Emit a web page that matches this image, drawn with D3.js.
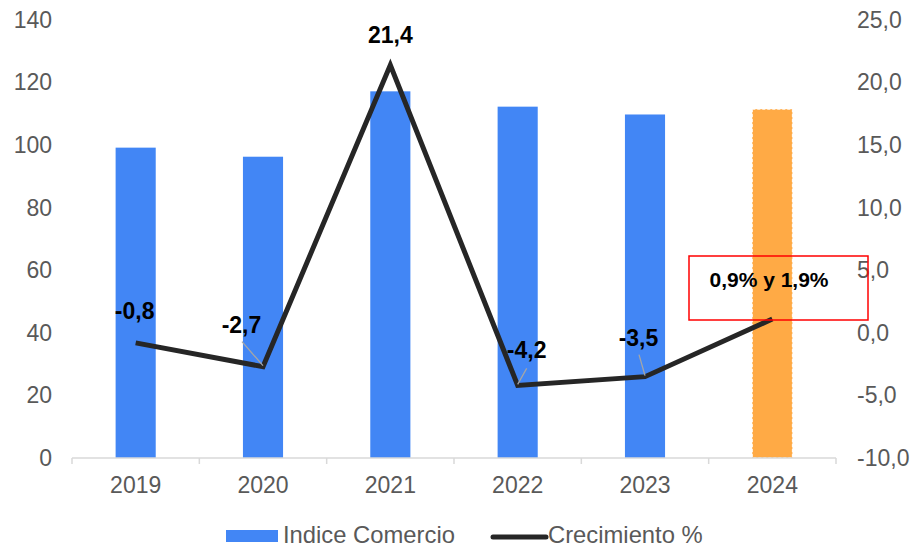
<!DOCTYPE html>
<html><head><meta charset="utf-8">
<script src="https://cdn.jsdelivr.net/npm/d3@7"></script>
<style>body{margin:0;background:#fff}svg{display:block}text{font-family:"Liberation Sans",Arial,sans-serif}</style>
</head><body><svg id="c" width="912" height="547"></svg>
<script>
const years = ["2019","2020","2021","2022","2023","2024"];
const indice = [99.2, 96.3, 117.2, 112.3, 109.8, 111.5];
const crecimiento = [-0.8, -2.7, 21.4, -4.2, -3.5, 1.1];
const growthLabels = ["-0,8","-2,7","21,4","-4,2","-3,5",""];
const leftTicks = [0,20,40,60,80,100,120,140];
const rightTicks = [-10,-5,0,5,10,15,20,25];
const boxLabel = "0,9% y 1,9%";

const svg = d3.select("#c");
const FF = '"Liberation Sans",Arial,sans-serif';
const L = 72, R = 836, T = 20, B = 458;
const x = d3.scaleBand().domain(years).range([L, R]).paddingInner(0.685).paddingOuter(0.3425);
const xc = d3.scaleBand().domain(years).range([L, R]);
const yL = d3.scaleLinear().domain([0,140]).range([B,T]);
const yR = d3.scaleLinear().domain([-10,25]).range([B,T]);

// bars
svg.selectAll("rect.bar").data(years).join("rect")
  .attr("x", d => x(d)).attr("width", x.bandwidth())
  .attr("y", (d,i) => yL(indice[i])).attr("height", (d,i) => B - yL(indice[i]))
  .attr("fill", (d,i) => i === 5 ? "#FFAA45" : "#4286F5")
  .attr("stroke", (d,i) => i === 5 ? "#fff" : "none")
  .attr("stroke-dasharray", "3,2").attr("stroke-width", 1);

// x axis
const xa = svg.append("g").attr("transform", `translate(0,${B})`)
  .call(d3.axisBottom(xc).tickSize(0).tickPadding(0));
xa.select(".domain").remove();
xa.append("line").attr("x1", L).attr("x2", R).attr("stroke", "#d9d9d9").attr("stroke-width", 1.5);
d3.range(years.length + 1).forEach(i => {
  const xx = L + i * xc.step();
  xa.append("line").attr("x1", xx).attr("x2", xx).attr("y1", 0).attr("y2", 6).attr("stroke", "#d9d9d9").attr("stroke-width", 1.5);
});
xa.selectAll(".tick text").attr("y", 35).attr("dy", null).attr("font-size", 23).attr("fill", "#595959").attr("font-family", FF);

// left axis
const ya = svg.append("g").attr("transform", `translate(52,0)`)
  .call(d3.axisLeft(yL).tickValues(leftTicks).tickSize(0).tickPadding(0).tickFormat(d3.format("d")));
ya.select(".domain").remove();
ya.selectAll("text").attr("font-size", 23).attr("fill", "#595959").attr("font-family", FF);

// right axis
const fmt = d => d.toFixed(1).replace(".", ",");
const yra = svg.append("g").attr("transform", `translate(857,0)`)
  .call(d3.axisRight(yR).tickValues(rightTicks).tickSize(0).tickPadding(0).tickFormat(fmt));
yra.select(".domain").remove();
yra.selectAll("text").attr("font-size", 23).attr("fill", "#595959").attr("font-family", FF);

// line
const px = i => xc(years[i]) + xc.bandwidth()/2;
const line = d3.line().x((d,i) => px(i)).y(d => yR(d));
svg.append("path").datum(crecimiento).attr("d", line).attr("fill", "none")
  .attr("stroke", "#262626").attr("stroke-width", 5).attr("stroke-linejoin", "miter");

// data labels (offsets relative to points)
const off = [[-1,-24],[-21.5,-34],[0,-22],[9,-27],[-6.5,-31],[0,0]];
const leader = [null,[-21,-25],null,[9,-17],[-6,-22],null];
crecimiento.forEach((v,i) => {
  if (!growthLabels[i]) return;
  const cx = px(i), cy = yR(v);
  if (leader[i]) {
    svg.append("line").attr("x1", cx + leader[i][0]).attr("y1", cy + leader[i][1])
      .attr("x2", cx).attr("y2", cy - 1).attr("stroke", "#a6a6a6").attr("stroke-width", 1.3);
  }
  svg.append("text").attr("x", cx + off[i][0]).attr("y", cy + off[i][1]).attr("text-anchor", "middle")
    .attr("font-size", 23).attr("font-weight", "bold").attr("fill", "#000").text(growthLabels[i]);
});

// red box annotation
svg.append("rect").attr("x", 689).attr("y", 256).attr("width", 179).attr("height", 64)
  .attr("fill", "none").attr("stroke", "#ff0000").attr("stroke-width", 1.5);
svg.append("text").attr("x", 769).attr("y", 287).attr("text-anchor", "middle")
  .attr("font-size", 21).attr("font-weight", "bold").attr("fill", "#000").text(boxLabel);

// legend
const lg = svg.append("g");
lg.append("rect").attr("x", 226).attr("y", 530).attr("width", 52).attr("height", 12).attr("fill", "#4286F5");
lg.append("text").attr("x", 283).attr("y", 543).attr("font-size", 23.8).attr("fill", "#595959").text("Indice Comercio");
lg.append("line").attr("x1", 493).attr("x2", 546).attr("y1", 537).attr("y2", 537).attr("stroke", "#262626").attr("stroke-width", 5).attr("stroke-linecap", "round");
lg.append("text").attr("x", 548).attr("y", 543).attr("font-size", 23.8).attr("fill", "#595959").text("Crecimiento %");
</script></body></html>
